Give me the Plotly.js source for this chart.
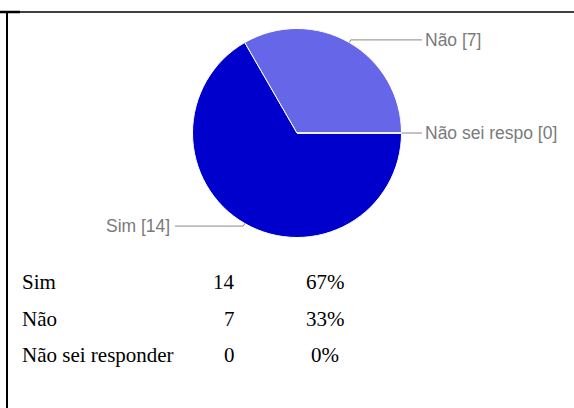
<!DOCTYPE html>
<html><head><meta charset="utf-8">
<script src="https://cdn.plot.ly/plotly-3.0.1.min.js"></script>
<style>html,body{margin:0;padding:0;background:#fff;} #chart{width:574px;height:408px;}</style>
</head><body><div id="chart"></div>
<script>
const categories = ['Sim', 'Não', 'Não sei responder'];
const shortLabels = ['Sim', 'Não', 'Não sei respo'];
const counts = [14, 7, 0];
const sliceColors = ['#0000cc', '#6666e8', '#9999f0'];

const W = 574, H = 408;
const cx = 297, cy = 133, R = 104.5;
const px = x => x / W, py = y => 1 - y / H;
const total = counts.reduce((a, b) => a + b, 0);

const shapes = [];
const annotations = [];
const labelFont = {family: 'Liberation Sans, Arial, sans-serif', size: 17.5, color: '#7a7a7a'};
const tableFont = {family: 'Liberation Serif, Times New Roman, serif', size: 21, color: '#000000'};

// leader lines + labels, derived from slice angles (start at 3 o'clock, clockwise)
let acc = 0;
counts.forEach((v, i) => {
  const midFrac = (acc + v / 2) / total;
  acc += v;
  const ang = -2 * Math.PI * midFrac;
  const ex = cx + R * Math.cos(ang), ey = cy - R * Math.sin(ang);
  const bx = cx + (R + 3) * Math.cos(ang), by = cy - (R + 3) * Math.sin(ang);
  const right = Math.cos(ang) >= 0;
  const endX = right ? 422 : 175;
  const lineStyle = {color: '#888888', width: 1};
  shapes.push({type: 'line', xref: 'paper', yref: 'paper', x0: px(ex), y0: py(ey), x1: px(bx), y1: py(by), line: lineStyle});
  shapes.push({type: 'line', xref: 'paper', yref: 'paper', x0: px(bx), y0: py(by), x1: px(endX), y1: py(by), line: lineStyle});
  annotations.push({
    xref: 'paper', yref: 'paper', x: px(right ? endX + 1 : endX - 3), y: py(by),
    xanchor: right ? 'left' : 'right', yanchor: 'middle', showarrow: false,
    text: shortLabels[i] + ' [' + v + ']', font: labelFont
  });
});

// summary table
categories.forEach((c, i) => {
  const y = py(282 + i * 36.5);
  const pct = Math.round(counts[i] / total * 100) + '%';
  annotations.push({xref: 'paper', yref: 'paper', x: px(20), y: y, xanchor: 'left', yanchor: 'middle', showarrow: false, text: c, font: tableFont});
  annotations.push({xref: 'paper', yref: 'paper', x: px(237), y: y, xanchor: 'right', yanchor: 'middle', showarrow: false, text: String(counts[i]), font: tableFont});
  annotations.push({xref: 'paper', yref: 'paper', x: px(325), y: y, xanchor: 'center', yanchor: 'middle', showarrow: false, text: pct, font: tableFont});
});

// frame lines
shapes.push({type: 'line', xref: 'paper', yref: 'paper', x0: 0, y0: py(12), x1: 1, y1: py(12), line: {color: '#000', width: 1.5}});
shapes.push({type: 'line', xref: 'paper', yref: 'paper', x0: 0, y0: py(12), x1: px(20), y1: py(12), line: {color: '#000', width: 2.5}});
shapes.push({type: 'line', xref: 'paper', yref: 'paper', x0: px(7), y0: py(12), x1: px(7), y1: 0, line: {color: '#000', width: 2}});

const data = [{
  type: 'pie', labels: categories, values: counts, sort: false,
  direction: 'clockwise', rotation: 90,
  marker: {colors: sliceColors, line: {color: '#ffffff', width: 1}},
  textinfo: 'none', hoverinfo: 'none', showlegend: false,
  domain: {x: [px(cx - R), px(cx + R)], y: [py(cy + R), py(cy - R)]}
}];

const layout = {
  width: W, height: H, margin: {l: 0, r: 0, t: 0, b: 0},
  paper_bgcolor: '#ffffff', plot_bgcolor: '#ffffff',
  showlegend: false, shapes: shapes, annotations: annotations
};

Plotly.newPlot('chart', data, layout, {displayModeBar: false, staticPlot: true});
</script>
</body></html>
